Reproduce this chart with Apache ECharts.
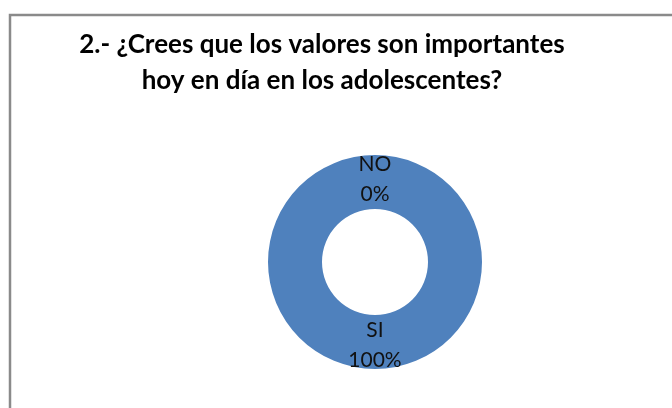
<!DOCTYPE html>
<html><head><meta charset="utf-8">
<script src="https://cdn.jsdelivr.net/npm/echarts@6/dist/echarts.min.js"></script>
<style>html,body{margin:0;padding:0;background:#fff}#c{width:672px;height:408px}</style>
</head><body><div id="c"></div>
<script>
const titleLines = ['2.- ¿Crees que los valores son importantes', 'hoy en día en los adolescentes?'];
const categories = ['NO', 'SI'];
const values = [0, 100];

const chart = echarts.init(document.getElementById('c'), null, {renderer: 'canvas'});
chart.setOption({
  animation: false,
  backgroundColor: '#fff',
  graphic: [{
    type: 'rect', silent: true,
    shape: {x: 10, y: 15, width: 700, height: 420},
    style: {fill: 'none', stroke: '#8a8a8a', lineWidth: 2.5}
  }],
  title: {
    text: titleLines.join('\n'),
    left: 317, top: 22, textAlign: 'center',
    textStyle: {fontFamily: 'Lato', fontWeight: 'bold', fontSize: 26, lineHeight: 36, color: '#000'}
  },
  series: [{
    type: 'pie',
    center: [375, 262],
    radius: [53, 107],
    startAngle: 90,
    clockwise: true,
    avoidLabelOverlap: false,
    itemStyle: {color: '#4f81bd'},
    label: {
      show: true, position: 'inside', formatter: '{b}\n{d}%',
      fontFamily: 'Lato', fontSize: 21, lineHeight: 30, color: '#111'
    },
    labelLine: {show: false},
    emphasis: {disabled: true},
    data: categories.map((c, i) => ({name: c, value: values[i]}))
  }]
});
</script></body></html>
